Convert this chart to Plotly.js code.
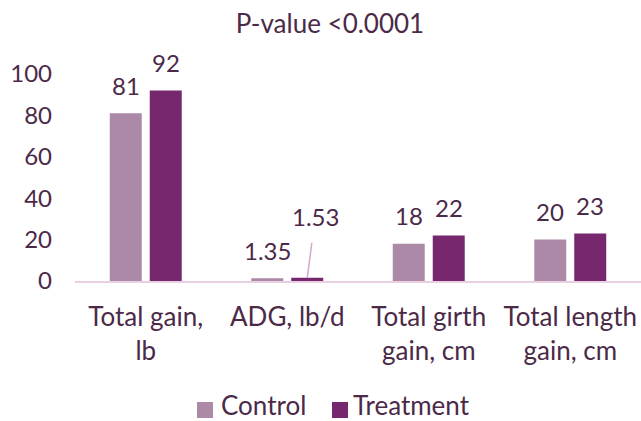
<!DOCTYPE html>
<html>
<head>
<meta charset="utf-8">
<script src="https://cdn.plot.ly/plotly-3.0.1.min.js"></script>
<style>html,body{margin:0;padding:0;background:#fff;}#chart{width:641px;height:421px;}</style>
</head>
<body>
<div id="chart"></div>
<script>
var categories = ["Total gain,<br>lb", "ADG, lb/d", "Total girth<br>gain, cm", "Total length<br>gain, cm"];
var seriesNames = ["Control", "Treatment"];
var controlValues = [81, 1.35, 18, 20];
var treatmentValues = [92, 1.53, 22, 23];
var controlLabels = ["81", "1.35", "18", "20"];
var treatmentLabels = ["92", "1.53", "22", "23"];
var yTicks = [0, 20, 40, 60, 80, 100];
var titleText = "P-value <0.0001";

var textColor = "#4b2a48";
var controlColor = "#ac8aa7";
var treatmentColor = "#76276d";
var fontFamily = "Lato, 'Open Sans', sans-serif";

var traces = [
  {type: "bar", name: seriesNames[0], x: categories, y: controlValues, marker: {color: controlColor}, hoverinfo: "skip"},
  {type: "bar", name: seriesNames[1], x: categories, y: treatmentValues, marker: {color: treatmentColor}, hoverinfo: "skip"}
];

var W = 641, H = 421, ML = 75, MR = 0, MT = 74, MB = 140;
var plotW = W - ML - MR, plotH = H - MT - MB;
function px2x(px) { return (px - ML) / plotW; }
function py2y(py) { return (H - MB - py) / plotH; }

var annotations = [];
function addLabels(values, labels, shift) {
  for (var i = 0; i < values.length; i++) {
    annotations.push({
      x: categories[i], y: values[i], xref: "x", yref: "y",
      text: labels[i], showarrow: false, xshift: shift, yshift: 28,
      yanchor: "middle", xanchor: "center",
      font: {family: fontFamily, size: 24, color: textColor}
    });
  }
}
addLabels(controlValues, controlLabels, -20);
addLabels(treatmentValues, treatmentLabels, 20);
// leader-line label for ADG treatment
var adg = annotations[controlValues.length + 1];
adg.showarrow = true;
adg.arrowhead = 0;
adg.arrowwidth = 1.5;
adg.arrowcolor = "#d3a9cd";
adg.ax = 8;
adg.ay = -61;
adg.yshift = 0;
adg.xshift = 20;
adg.startstandoff = 10;

// custom legend (squares + text)
var legendItems = [
  {name: seriesNames[0], color: controlColor, sq: 197, tx: 220},
  {name: seriesNames[1], color: treatmentColor, sq: 332, tx: 352}
];
var legendSqY = 410, legendTextY = 405, sqSize = 16;
var shapes = [];
legendItems.forEach(function (it) {
  shapes.push({type: "rect", xref: "paper", yref: "paper",
    x0: px2x(it.sq), x1: px2x(it.sq + sqSize), y0: py2y(legendSqY + sqSize / 2), y1: py2y(legendSqY - sqSize / 2),
    fillcolor: it.color, line: {width: 0}});
  annotations.push({xref: "paper", yref: "paper", x: px2x(it.tx), y: py2y(legendTextY),
    xanchor: "left", yanchor: "middle", text: it.name, showarrow: false, borderpad: 0,
    font: {family: fontFamily, size: 26, color: textColor}});
});

var layout = {
  width: W, height: H,
  margin: {l: ML, r: MR, t: MT, b: MB, pad: 0},
  paper_bgcolor: "#ffffff", plot_bgcolor: "#ffffff",
  font: {family: fontFamily, size: 24, color: textColor},
  title: {text: titleText, x: 330 / W, xref: "container", xanchor: "center", y: 1 - 24 / H, yref: "container", yanchor: "middle",
          font: {family: fontFamily, size: 26, color: textColor}},
  barmode: "group", bargap: 0.435, bargroupgap: 0.2,
  showlegend: false,
  xaxis: {type: "category", showline: true, linecolor: "#e8d0e2", linewidth: 1.5, showgrid: false, zeroline: false,
          ticks: "", tickfont: {family: fontFamily, size: 26, color: textColor}, ticklabelstandoff: 12, fixedrange: true},
  yaxis: {range: [0, 100], tickvals: yTicks, showgrid: false, zeroline: false, showline: false, ticks: "",
          tickfont: {family: fontFamily, size: 24, color: textColor}, ticklabelstandoff: 22, fixedrange: true},
  shapes: shapes,
  annotations: annotations
};

Plotly.newPlot("chart", traces, layout, {displayModeBar: false, staticPlot: true});
</script>
</body>
</html>
